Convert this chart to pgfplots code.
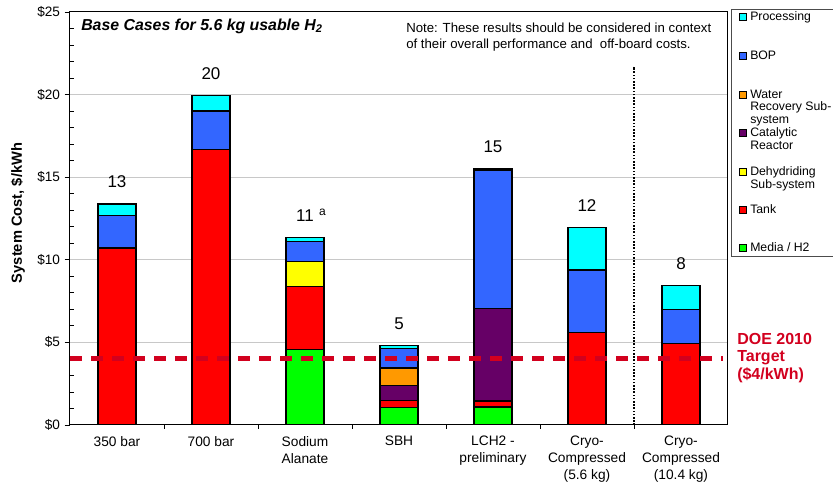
\documentclass[border=0pt]{standalone}
\usepackage{pgfplots}
\usepackage{pgfplotstable}
\pgfplotsset{compat=1.18}
\usepackage{fontspec}
\setmainfont{Liberation Sans}

\definecolor{cmedia}{HTML}{00FF00}
\definecolor{ctank}{HTML}{FF0000}
\definecolor{cdehyd}{HTML}{FFFF00}
\definecolor{ccatal}{HTML}{660066}
\definecolor{cwater}{HTML}{FF9900}
\definecolor{cbop}{HTML}{3366FF}
\definecolor{cproc}{HTML}{00FFFF}
\definecolor{doered}{RGB}{210,0,30}
\definecolor{gridgray}{RGB}{200,200,200}

\tikzset{
  tot/.style={font=\fontsize{12.75}{14}\selectfont, yshift=16.5pt},
  leg/.style={anchor=north west, align=left, inner sep=0, font=\fontsize{9.2}{9.4}\selectfont},
}

% cost components, $/kWh, bottom to top of each stack
\pgfplotstableread{
x media tank dehyd catal water bop  proc
0 0     10.71 0    0    0     1.98 0.69
1 0     16.67 0    0    0     2.34 0.95
2 4.55  3.83  1.50 0    0     1.23 0.26
3 1.05  0.45  0    0.90 1.05  1.20 0.15
4 1.09  0.36  0    5.60 0     8.36 0.09
5 0     5.62  0    0    0     3.76 2.56
6 0     4.95  0    0    0     2.02 1.45
}\costs

\begin{document}
\begin{tikzpicture}
\path[use as bounding box] (0,0) rectangle (624.75pt,372pt);
\begin{axis}[
  at={(52.5pt,53.25pt)}, anchor=south west,
  scale only axis, width=493.5pt, height=309.75pt,
  ybar stacked, bar width=28.5pt,
  xmin=-0.5, xmax=6.5, ymin=0, ymax=25,
  axis line style={line width=0.75pt},
  tick pos=left, tick align=outside,
  xtick={0,...,6},
  xticklabels={350 bar, 700 bar, {Sodium\\Alanate}, SBH, {LCH2 -\\preliminary},
    {Cryo-\\Compressed\\(5.6 kg)}, {Cryo-\\Compressed\\(10.4 kg)}},
  xticklabel style={align=center, anchor=north, yshift=-1pt,
    font=\fontsize{10.3}{12.75}\selectfont},
  major x tick style={draw=none},
  minor xtick={0.5,1.5,...,5.5},
  minor x tick style={black, line width=0.6pt},
  ytick={0,5,...,25},
  yticklabel={\$\pgfmathprintnumber{\tick}},
  yticklabel style={font=\fontsize{10.2}{12}\selectfont},
  minor ytick={1,2,3,4,6,7,8,9,11,12,13,14,16,17,18,19,21,22,23,24},
  minor y tick style={xshift=3pt, black, line width=0.6pt},
  minor tick length=3pt, major tick length=4pt,
  major y tick style={black, line width=0.6pt},
  ymajorgrids, major grid style={gridgray, line width=0.75pt},
  /pgf/number format/assume math mode=true,
  every axis plot/.append style={draw=black, line width=0.9pt},
]
\addplot[fill=cmedia] table[x=x,y=media]{\costs};
\addplot[fill=ctank]  table[x=x,y=tank]{\costs};
\addplot[fill=cdehyd] table[x=x,y=dehyd]{\costs};
\addplot[fill=ccatal] table[x=x,y=catal]{\costs};
\addplot[fill=cwater] table[x=x,y=water]{\costs};
\addplot[fill=cbop]   table[x=x,y=bop]{\costs};
\addplot[fill=cproc]  table[x=x,y=proc]{\costs};

% ends of the target line and separator, drawn after the axis
\coordinate (doeA) at (axis cs:-0.5,4);
\coordinate (doeB) at (axis cs:6.45,4);
\coordinate (sepA) at (axis cs:5.5,0);
\coordinate (sepB) at (axis cs:5.5,21.7);

% totals above the bars
\node[tot] at (axis cs:0,13.38) {13};
\node[tot] at (axis cs:1,19.96) {20};
\node[tot] at (axis cs:2,11.37) {11\rlap{\hspace{4pt}\raisebox{4pt}{\fontsize{9}{10}\selectfont a}}};
\node[tot] at (axis cs:3,4.80) {5};
\node[tot] at (axis cs:4,15.50) {15};
\node[tot] at (axis cs:5,11.94) {12};
\node[tot] at (axis cs:6,8.42) {8};
\end{axis}

\draw[doered, line width=3.75pt, dash pattern=on 9pt off 6.75pt] (doeA) -- (doeB);
\draw[black, line width=1.5pt, dash pattern=on 1.2pt off 1.2pt] (sepA) -- (sepB);

\begin{scope}[x=0.75pt, y=-0.75pt, yshift=372pt]
% y label
\node[rotate=90, font=\bfseries\fontsize{11}{13}\selectfont] at (18,213) {System Cost, \$/kWh};
% title and note
\node[anchor=west, inner sep=0, font=\bfseries\itshape\fontsize{11.9}{13}\selectfont]
  at (81,26) {Base Cases for 5.6 kg usable H\textsubscript{2}};
\node[anchor=west, align=left, inner sep=0, font=\fontsize{9.9}{12}\selectfont]
  at (406,37) {Note: These results should be considered in context\\of their overall performance and~ off-board costs.};
% DOE text
\node[anchor=north west, align=left, inner sep=0, text=doered,
  font=\bfseries\fontsize{12}{13.1}\selectfont]
  at (737,333) {DOE 2010\\Target\\(\$4/kWh)};
% legend
\draw[line width=0.75pt, gray!60!black] (731,10) rectangle (840,257);
\draw[fill=cproc]  (739.5,13.5) rectangle +(7,7);  \node[leg] at (750,11.5) {Processing};
\draw[fill=cbop]   (739.5,52.5) rectangle +(7,7);  \node[leg] at (750,50.5) {BOP};
\draw[fill=cwater] (739.5,91.5) rectangle +(7,7);  \node[leg] at (750,89.5) {Water\\Recovery Sub-\\system};
\draw[fill=ccatal] (739.5,129.5) rectangle +(7,7); \node[leg] at (750,127.5) {Catalytic\\Reactor};
\draw[fill=cdehyd] (739.5,168.5) rectangle +(7,7); \node[leg] at (750,166.5) {Dehydriding\\Sub-system};
\draw[fill=ctank]  (739.5,206.5) rectangle +(7,7); \node[leg] at (750,204.5) {Tank};
\draw[fill=cmedia] (739.5,244.5) rectangle +(7,7); \node[leg] at (750,242.5) {Media / H2};
\end{scope}
\end{tikzpicture}
\end{document}
